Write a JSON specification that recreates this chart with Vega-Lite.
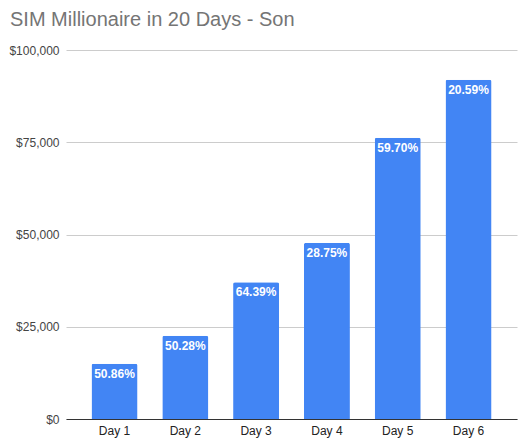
{
  "$schema": "https://vega.github.io/schema/vega-lite/v6.json",
  "autosize": {"type": "none"},
  "width": 451,
  "height": 369,
  "padding": {"left": 66, "right": 9, "top": 50, "bottom": 24},
  "background": "white",
  "title": {
    "text": "SIM Millionaire in 20 Days - Son",
    "anchor": "start",
    "frame": "group",
    "dx": -56,
    "offset": 14,
    "font": "Liberation Sans",
    "fontSize": 20,
    "fontWeight": "normal",
    "color": "#757575"
  },
  "data": {
    "values": [
      {"day": "Day 1", "amount": 15000, "growth": "50.86%"},
      {"day": "Day 2", "amount": 22550, "growth": "50.28%"},
      {"day": "Day 3", "amount": 37070, "growth": "64.39%"},
      {"day": "Day 4", "amount": 47730, "growth": "28.75%"},
      {"day": "Day 5", "amount": 76220, "growth": "59.70%"},
      {"day": "Day 6", "amount": 91910, "growth": "20.59%"}
    ]
  },
  "encoding": {
    "x": {
      "field": "day",
      "type": "ordinal",
      "title": null,
      "scale": {"paddingInner": 0.35, "paddingOuter": 0.36},
      "axis": {
        "labelAngle": 0,
        "ticks": false,
        "domainColor": "#333333",
        "labelFont": "Liberation Sans",
        "labelFontSize": 12,
        "labelColor": "#222222",
        "labelPadding": 6
      }
    },
    "y": {
      "field": "amount",
      "type": "quantitative",
      "title": null,
      "scale": {"domain": [0, 100000]},
      "axis": {
        "values": [0, 25000, 50000, 75000, 100000],
        "format": "$,.0f",
        "domain": false,
        "ticks": false,
        "gridColor": "#cccccc",
        "labelFont": "Liberation Sans",
        "labelFontSize": 12,
        "labelColor": "#444444",
        "labelPadding": 7
      }
    }
  },
  "layer": [
    {
      "mark": {"type": "bar", "color": "#4285F4", "cornerRadiusTopLeft": 2, "cornerRadiusTopRight": 2}
    },
    {
      "mark": {
        "type": "text",
        "baseline": "top",
        "dy": 5,
        "color": "white",
        "font": "Liberation Sans",
        "fontSize": 12,
        "fontWeight": "bold"
      },
      "encoding": {"text": {"field": "growth"}}
    }
  ],
  "config": {"view": {"stroke": null}}
}
